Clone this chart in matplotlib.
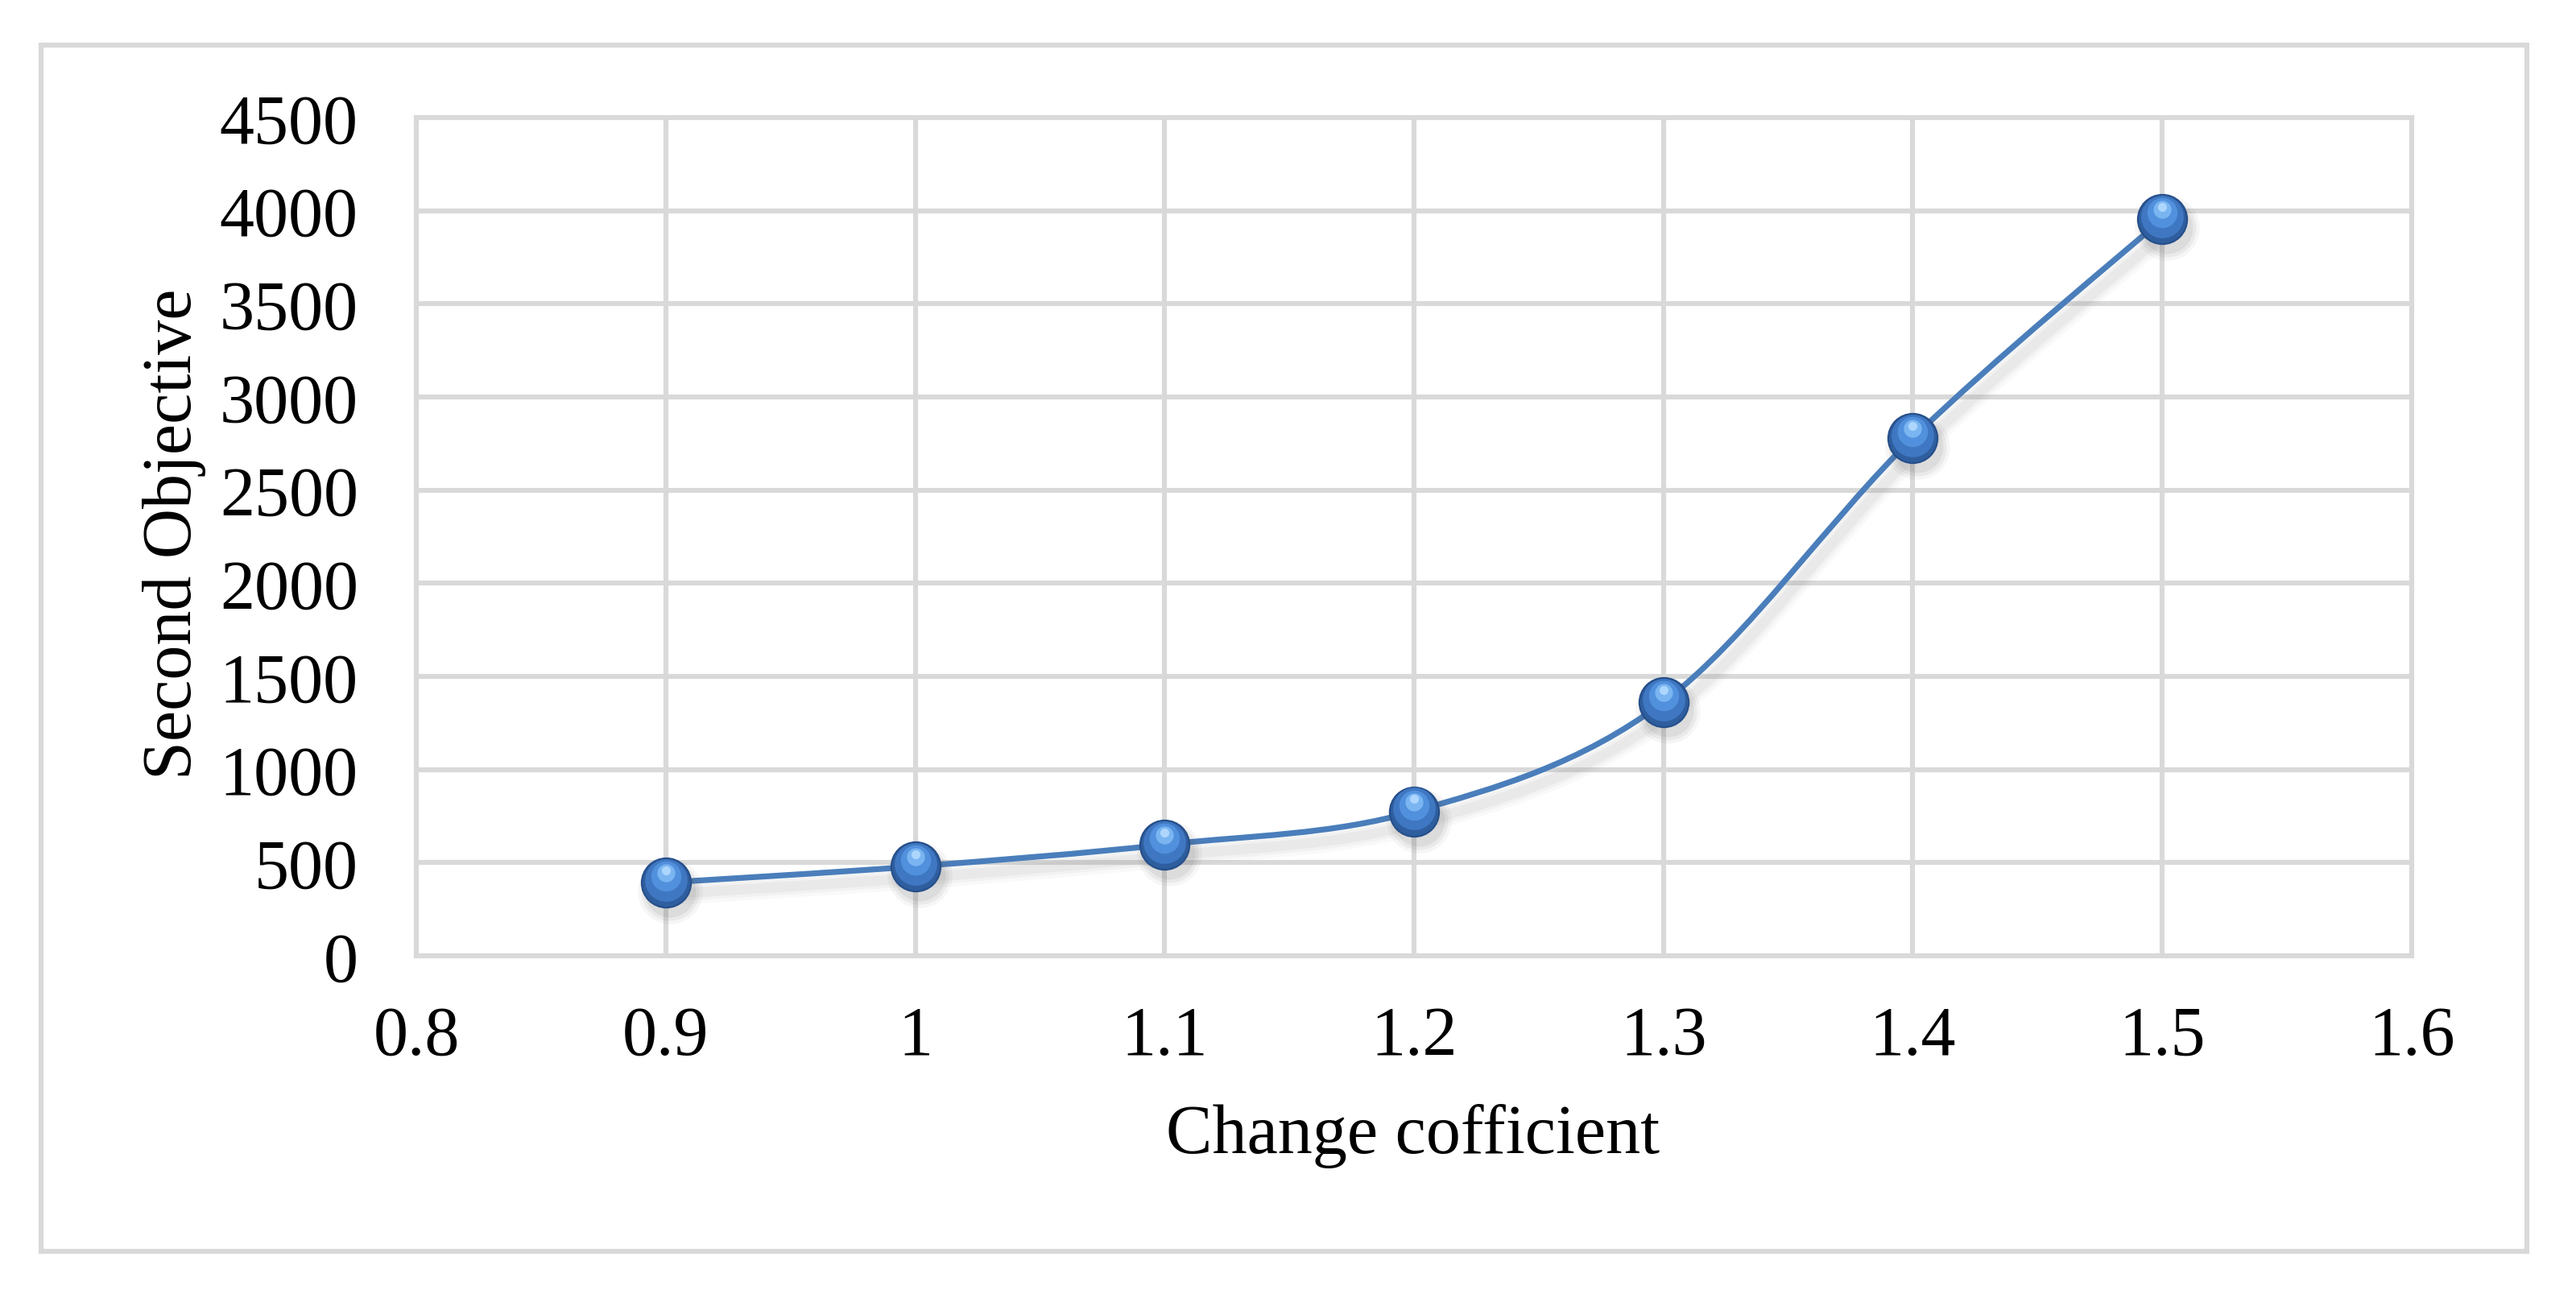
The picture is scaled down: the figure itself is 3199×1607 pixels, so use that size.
import numpy as np
import matplotlib
matplotlib.use("Agg")
import matplotlib.pyplot as plt
from matplotlib.patches import Rectangle
from matplotlib.path import Path
import matplotlib.transforms as mtransforms

# ---- data ----
change_coef = [0.9, 1.0, 1.1, 1.2, 1.3, 1.4, 1.5]
second_objective = [393, 480, 597, 775, 1362, 2780, 3955]
x_ticks = [0.8, 0.9, 1.0, 1.1, 1.2, 1.3, 1.4, 1.5, 1.6]
x_tick_labels = ["0.8", "0.9", "1", "1.1", "1.2", "1.3", "1.4", "1.5", "1.6"]
y_ticks = [0, 500, 1000, 1500, 2000, 2500, 3000, 3500, 4000, 4500]
x_label = "Change cofficient"
y_label = "Second Objective"

W, H = 3199, 1608
DPI = 200
plt.rcParams['font.family'] = ['Liberation Serif', 'DejaVu Serif']

fig = plt.figure(figsize=(W / DPI, H / DPI), dpi=DPI)
L, R, T, B = 517, 2995, 147, 1188
ax = fig.add_axes([L / W, 1 - B / H, (R - L) / W, (B - T) / H])

grid_c = '#D9D9D9'
ax.set_xlim(0.8, 1.6)
ax.set_ylim(0, 4500)
ax.set_xticks(x_ticks)
ax.set_xticklabels(x_tick_labels)
ax.set_yticks(y_ticks)
ax.grid(True, color=grid_c, linewidth=2.2)
ax.set_axisbelow(True)
for s in ax.spines.values():
    s.set_color(grid_c)
    s.set_linewidth(2.2)
ax.tick_params(length=0, labelsize=31, colors='black')
ax.tick_params(axis='x', pad=22)
ax.tick_params(axis='y', pad=26)

fig.text(1755 / W, 1 - 1432 / H, x_label, fontsize=31, ha='center', va='baseline')
fig.text(237 / W, 1 - 663 / H, y_label, fontsize=31, ha='center', va='baseline',
         rotation=90, rotation_mode='anchor')

# ---- smooth curve (Excel-like Bezier through points, computed in display space) ----
xs = np.array(change_coef, float)
ys = np.array(second_objective, float)
fig.canvas.draw()
pts = ax.transData.transform(np.column_stack([xs, ys]))
verts = [pts[0]]
codes = [Path.MOVETO]
n = len(pts)
for i in range(n - 1):
    p0 = pts[max(i - 1, 0)]
    p1 = pts[i]
    p2 = pts[i + 1]
    p3 = pts[min(i + 2, n - 1)]
    c1 = p1 + (p2 - p0) / 6.0
    c2 = p2 - (p3 - p1) / 6.0
    verts += [c1, c2, p2]
    codes += [Path.CURVE4] * 3
path_disp = Path(np.array(verts), codes)
curve = path_disp.to_polygons(closed_only=False)[0]
curve_data = ax.transData.inverted().transform(curve)

# soft shadow of the line
shadow_tr = mtransforms.offset_copy(ax.transData, fig=fig, x=2.5, y=-5, units='points')
for lw, a in [(10, 0.04), (7, 0.05), (4.5, 0.07)]:
    ax.plot(curve_data[:, 0], curve_data[:, 1], color='#7f7f7f', linewidth=lw, alpha=a,
            zorder=2.5, transform=shadow_tr, solid_capstyle='round')
ax.plot(curve_data[:, 0], curve_data[:, 1], color='#4A7EBB', linewidth=2.6, zorder=3,
        solid_capstyle='round')

# ---- sphere-like markers ----
msh_tr = mtransforms.offset_copy(ax.transData, fig=fig, x=2, y=-4, units='points')
for ms, a in [(29, 0.05), (26, 0.07), (23, 0.09)]:
    ax.plot(xs, ys, linestyle='none', marker='o', markersize=ms, markerfacecolor='#555555',
            markeredgewidth=0, alpha=a, zorder=3.5, transform=msh_tr)
ax.plot(xs, ys, linestyle='none', marker='o', markersize=22, markerfacecolor='#2F5E9F',
        markeredgecolor='#264F8A', markeredgewidth=0.8, zorder=4)
off1 = mtransforms.offset_copy(ax.transData, fig=fig, x=0, y=1.2, units='points')
ax.plot(xs, ys, linestyle='none', marker='o', markersize=19, markerfacecolor='#3F77C2',
        markeredgewidth=0, zorder=5, transform=off1)
off2 = mtransforms.offset_copy(ax.transData, fig=fig, x=0, y=2.8, units='points')
ax.plot(xs, ys, linestyle='none', marker='o', markersize=13.5, markerfacecolor='#5190DC',
        markeredgewidth=0, zorder=6, transform=off2)
off3 = mtransforms.offset_copy(ax.transData, fig=fig, x=0, y=4.3, units='points')
ax.plot(xs, ys, linestyle='none', marker='o', markersize=8, markerfacecolor='#7DB8F3',
        markeredgewidth=0, zorder=7, transform=off3, alpha=0.95)
off4 = mtransforms.offset_copy(ax.transData, fig=fig, x=0, y=5.5, units='points')
ax.plot(xs, ys, linestyle='none', marker='o', markersize=4, markerfacecolor='#B3DAFF',
        markeredgewidth=0, zorder=8, transform=off4, alpha=0.9)

# ---- outer chart border ----
fig.patches.append(Rectangle((51 / W, 1 - 1555 / H), (3138 - 51) / W, (1555 - 57) / H,
                             transform=fig.transFigure, fill=False, edgecolor=grid_c,
                             linewidth=2.2, zorder=0))

fig.savefig("out.png", dpi=DPI, facecolor='white')
